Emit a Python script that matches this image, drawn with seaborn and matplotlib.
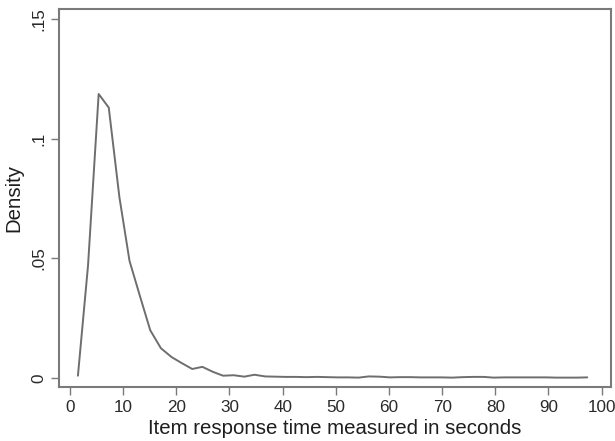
import matplotlib
matplotlib.use('Agg')
import matplotlib.pyplot as plt
import seaborn as sns
import pandas as pd

# density estimates
seconds = [1.5, 3.4, 5.4, 7.3, 9.3, 11.2, 13.2, 15.1, 17.1, 19.1,
           21.0, 23.0, 24.9, 26.9, 28.8, 30.8, 32.8, 34.7, 36.7, 38.6,
           40.6, 42.5, 44.5, 46.5, 48.4, 50.4, 52.3, 54.3, 56.2, 58.2,
           60.2, 62.1, 64.1, 66.0, 68.0, 69.9, 71.9, 73.9, 75.8, 77.8,
           79.7, 81.7, 83.6, 85.6, 87.6, 89.5, 91.5, 93.4, 95.4, 97.3]
density = [0.0010, 0.0470, 0.1187, 0.1130, 0.0756, 0.0490, 0.0340, 0.0200, 0.0125, 0.0088,
           0.0063, 0.0038, 0.0047, 0.0026, 0.0010, 0.0012, 0.0006, 0.0014, 0.0007, 0.0006,
           0.0005, 0.0005, 0.0004, 0.0005, 0.0004, 0.0003, 0.0003, 0.0002, 0.0007, 0.0006,
           0.0003, 0.0004, 0.0004, 0.0003, 0.0003, 0.0003, 0.0002, 0.0004, 0.0005, 0.0005,
           0.0002, 0.0003, 0.0003, 0.0003, 0.0003, 0.0003, 0.0002, 0.0002, 0.0002, 0.0003]
xticks = [0, 10, 20, 30, 40, 50, 60, 70, 80, 90, 100]
yticks = [0, 0.05, 0.1, 0.15]
ytick_labels = ['0', '.05', '.1', '.15']

df = pd.DataFrame({'seconds': seconds, 'density': density})

sns.set_style('ticks')
plt.rcParams['font.family'] = ['Liberation Sans', 'DejaVu Sans']

fig = plt.figure(figsize=(6.15, 4.41), dpi=100)
ax = fig.add_axes([0.0967, 0.1231, 0.8963, 0.8565])

sns.lineplot(x='seconds', y='density', data=df, color='#6e6e6e', linewidth=1.4, ax=ax)

ax.set_xlim(-1.97, 101.7)
ax.set_ylim(-0.0036, 0.1542)
ax.set_xticks(xticks)
ax.set_yticks(yticks)
ax.set_yticklabels(ytick_labels, rotation=90, va='center')

for s in ax.spines.values():
    s.set_visible(True)
    s.set_color('#7a7a7a')
    s.set_linewidth(1.5)
ax.tick_params(axis='both', colors='#7a7a7a', labelcolor='#2a2a2a', labelsize=12.3,
               length=6, width=1)

ax.set_xlabel('Item response time measured in seconds', fontsize=14.7, color='#1e1e1e', labelpad=3)
ax.set_ylabel('Density', fontsize=14.7, color='#1e1e1e', labelpad=6)

fig.savefig('out.png', dpi=100)
